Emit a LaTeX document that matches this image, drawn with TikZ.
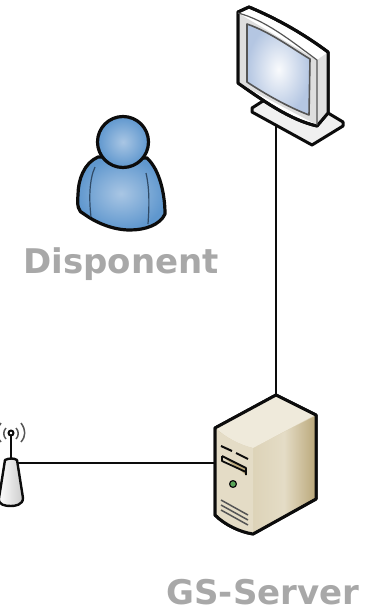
\documentclass[tikz,border=0pt]{standalone}
\usepackage{fontspec}
\setmainfont{DejaVu Sans}
\usetikzlibrary{positioning}
\definecolor{labelgrey}{HTML}{A8A8A8}
\definecolor{iconline}{HTML}{0C0C0C}
\definecolor{personblue}{HTML}{5F97CE}
\definecolor{personlight}{HTML}{A9C6E4}
\definecolor{caselight}{HTML}{EFEADB}
\definecolor{casetan}{HTML}{BBA97C}
\definecolor{casemid}{HTML}{DDD3B8}
\definecolor{framegrey}{HTML}{DEDEDE}
\definecolor{screenblue}{HTML}{B4C6E2}
\begin{document}
\begin{tikzpicture}[
            x=1pt, y=-1pt,
            label/.style={
                    font=\fontsize{34}{40}\selectfont\bfseries,
                    text=labelgrey, inner sep=0pt
                },
            icon/.style={draw=iconline, line width=3pt, line join=round},
            thinpart/.style={draw=iconline!70, line width=1.2pt, line join=round},
            wire/.style={draw=iconline, line width=1.1pt}
            ]
            \useasboundingbox (0,0) rectangle (378,613);

            \coordinate (monitor) at (276,125);
            \coordinate (servertop) at (276,395);
            \coordinate (serverside) at (215,463);
            \coordinate (router) at (17,463);

            \draw[wire] (monitor) -- (servertop);
            \draw[wire] (router) -- (serverside);

            % monitor
            \draw[icon, fill=white!94!black] (252,108) -- (263,101) -- (328,113) -- (343,122)
            -- (343,126) -- (312,145) -- (252,112) -- cycle;
            \draw[icon, fill=white] (238,12) -- (249,7) .. controls (280,20) and (305,35) .. (328,52)
            -- (328,113) -- (317,126) .. controls (290,120) and (262,100) .. (238,83) -- cycle;
            \fill[framegrey] (238,13) -- (317,60) -- (317,125) -- (238,83) -- cycle;
            \fill[white!88!black] (317,60) -- (327,53) -- (327,113) -- (317,125) -- cycle;
            \draw[icon] (238,12) -- (249,7) .. controls (280,20) and (305,35) .. (328,52)
            -- (328,113) -- (317,126) .. controls (290,120) and (262,100) .. (238,83) -- cycle;
            \draw[thinpart] (238,13) .. controls (265,20) and (290,40) .. (317,60) -- (317,125);
            \draw[thinpart, line width=1.6pt, inner color=white!92!screenblue, outer color=screenblue]
            (247,24) .. controls (270,32) and (290,47) .. (310,59) -- (309,115)
            .. controls (288,107) and (265,94) .. (247,82) -- cycle;

            % person
            \draw[icon, line width=3.2pt, inner color=personlight, outer color=personblue]
            (98,157) .. controls (84,163) and (78,180) .. (78,195)
            .. controls (77,205) and (78,212) .. (84,214)
            .. controls (95,222) and (112,230) .. (130,230)
            .. controls (145,230) and (160,225) .. (165,214)
            .. controls (165,195) and (160,170) .. (147,158) -- cycle;
            \draw[thinpart, draw=personblue!50!black] (95,167) .. controls (89,180) and (89,200) .. (91,217);
            \draw[thinpart, draw=personblue!50!black] (146,173) .. controls (150,190) and (149,210) .. (148,224);
            \draw[icon, line width=3.2pt, inner color=personlight, outer color=personblue]
            (123,142) circle (25.5);
            \node[label] (disponent) at (121,264) {Disponent};

            % server
            \draw[icon, fill=casemid] (276,395) -- (316,415) -- (316,499) -- (253,534)
            .. controls (240,532) and (225,525) .. (215,515) -- (215,428) -- cycle;
            \shade[left color=casemid, right color=casetan, middle color=casemid!60!caselight]
            (253,448) -- (315,416) -- (315,498) -- (254,533) -- cycle;
            \fill[caselight] (276,396) -- (315,415) -- (253,448) .. controls (240,445) and (225,437) .. (216,428) -- cycle;
            \fill[casemid!60!caselight] (216,429) .. controls (225,437) and (240,445) .. (253,448)
            -- (253,533) .. controls (240,531) and (225,524) .. (216,514) -- cycle;
            \draw[icon] (276,395) -- (316,415) -- (316,499) -- (253,534)
            .. controls (240,532) and (225,525) .. (215,515) -- (215,428) -- cycle;
            \draw[icon, line width=2pt] (221,446) -- (232,451);
            \draw[icon, line width=2pt] (236,453) -- (248,459);
            \draw[icon, line width=1.8pt, fill=casetan] (222,456) -- (246,468) -- (246,475);
            \draw[icon, line width=1.8pt] (222,456) -- (222,461) -- (246,472);
            \draw[icon, line width=1.2pt, fill=green!30!gray] (233,484) circle (3.4);
            \foreach \yi in {0,5,10} {
                    \draw[thinpart, line width=1.5pt] (221,500+\yi) -- (248,515+\yi);
                }

            % router
            \draw[icon, line width=1.8pt] (11,433) -- (11,460);
            \draw[icon, line width=2pt, fill=white] (11,433) circle (2.5);
            \draw[thinpart, line width=1.5pt] (6,428) .. controls (3,431) and (3,436) .. (6,439);
            \draw[thinpart, line width=1.5pt] (16,428) .. controls (19,431) and (19,436) .. (16,439);
            \draw[thinpart, line width=1.5pt] (21,423) .. controls (26,430) and (26,436) .. (21,442);
            \draw[thinpart, line width=1.5pt] (1,423) .. controls (-4,430) and (-4,436) .. (1,442);
            \draw[icon, line width=2.4pt, left color=white, right color=white!80!black]
            (5,460) .. controls (9,458) and (14,458) .. (17,460)
            -- (23,498) .. controls (23,505) and (15,506) .. (11,506)
            .. controls (5,506) and (-2,505) .. (-1,498) -- cycle;

            \node[label] (gsserver) at (263,592) {GS-Server};
        \end{tikzpicture}
\end{document}
